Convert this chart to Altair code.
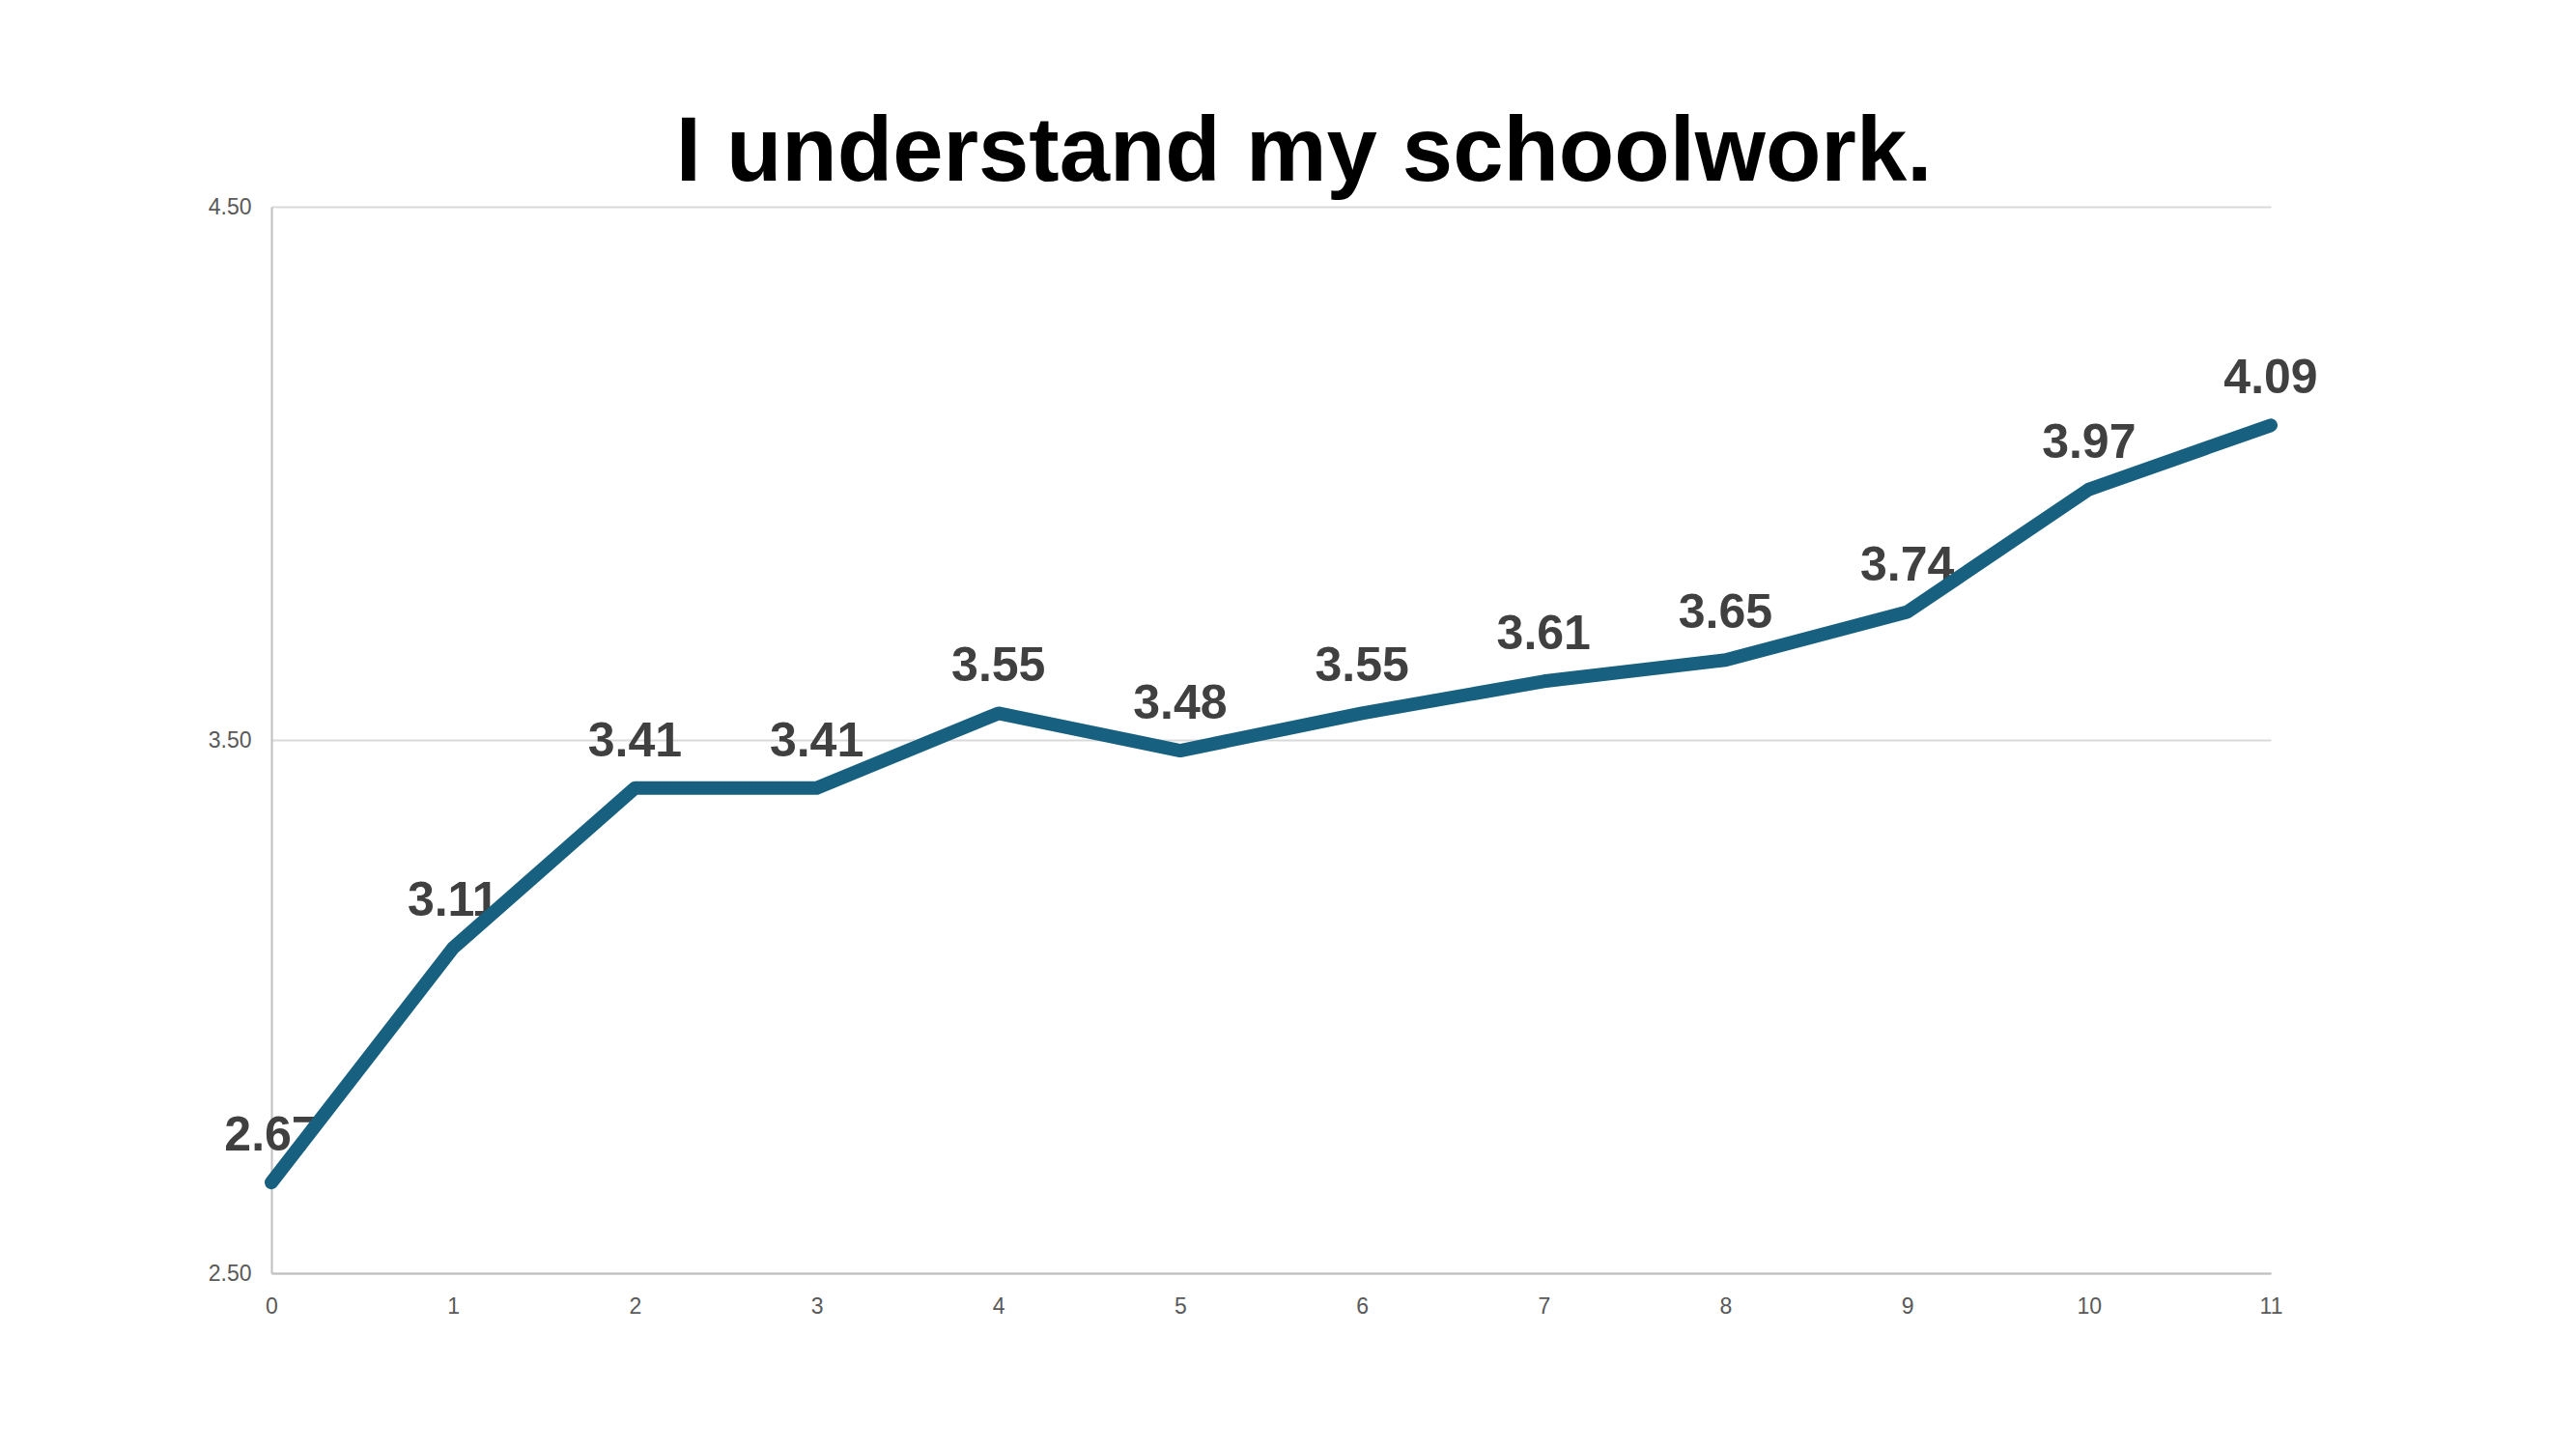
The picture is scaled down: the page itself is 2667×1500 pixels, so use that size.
import altair as alt
import pandas as pd

x_vals = [0, 1, 2, 3, 4, 5, 6, 7, 8, 9, 10, 11]
y_vals = [2.67, 3.11, 3.41, 3.41, 3.55, 3.48, 3.55, 3.61, 3.65, 3.74, 3.97, 4.09]
y_ticks = [2.5, 3.5, 4.5]
title_text = "I understand my schoolwork."

df = pd.DataFrame({"x": x_vals, "y": y_vals})

x_enc = alt.X("x:Q", scale=alt.Scale(domain=[0, 11], nice=False, zero=False),
              axis=alt.Axis(values=x_vals, format="d", title=None, grid=False, ticks=False,
                            labelFontSize=23, labelColor="#595959", labelFont="Liberation Sans",
                            labelPadding=23, domainColor="#bfbfbf", domainWidth=2,
                            labelFlush=False))
y_enc = alt.Y("y:Q", scale=alt.Scale(domain=[2.5, 4.5], nice=False, zero=False),
              axis=alt.Axis(values=y_ticks, format=".2f", title=None, grid=True,
                            gridColor="#d9d9d9", gridWidth=2, ticks=False,
                            labelFontSize=23, labelColor="#595959", labelFont="Liberation Sans",
                            labelPadding=21, domainColor="#bfbfbf", domainWidth=2,
                            labelFlush=False))

base = alt.Chart(df)

labels = base.mark_text(font="Liberation Sans", fontWeight="bold", fontSize=50,
                        color="#404040", baseline="alphabetic", align="center", dy=-33).encode(
    x=x_enc, y=y_enc, text=alt.Text("y:Q", format=".2f"))

line = base.mark_line(color="#17607f", strokeWidth=14, strokeCap="round", strokeJoin="round").encode(
    x=x_enc, y=y_enc)

chart = alt.layer(labels, line).properties(
    width=2070, height=1104,
    title=alt.TitleParams(title_text, font="Liberation Sans", fontSize=94, fontWeight="bold",
                          color="#000000", anchor="middle", offset=-4, dx=34),
    autosize=alt.AutoSizeParams(type="none"),
    padding={"left": 273, "top": 206, "right": 300, "bottom": 170},
).configure_view(stroke=None)

chart.save("out.html", embed_options={"renderer": "svg", "actions": False})
